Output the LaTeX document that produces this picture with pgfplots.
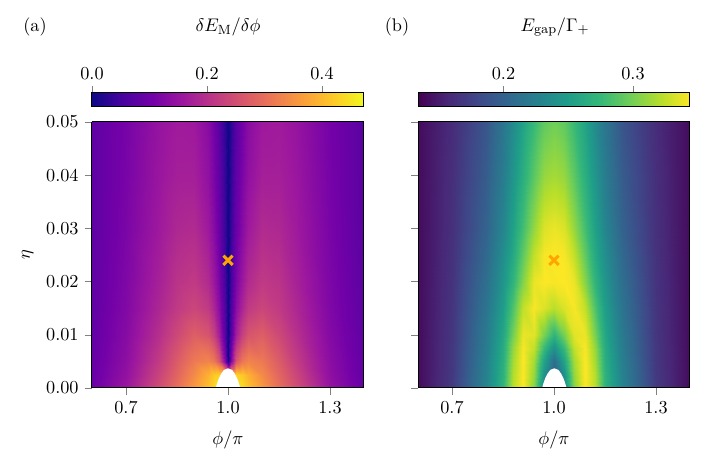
\documentclass[11pt,border=0pt]{standalone}
\usepackage{pgfplots}
\pgfplotsset{compat=1.18}
\definecolor{mplorange}{RGB}{255,165,0}
\pgfplotsset{
  colormap={plasma}{rgb255=(13,8,135) rgb255=(71,3,159) rgb255=(115,1,168) rgb255=(156,23,158) rgb255=(189,55,134) rgb255=(216,87,107) rgb255=(237,121,83) rgb255=(251,159,58) rgb255=(253,202,38) rgb255=(240,249,33)},
  colormap={vir}{rgb255=(68,1,84) rgb255=(72,40,120) rgb255=(62,73,137) rgb255=(49,104,142) rgb255=(38,130,142) rgb255=(31,158,137) rgb255=(53,183,121) rgb255=(110,206,88) rgb255=(181,222,43) rgb255=(253,231,37)},
  hm/.style={
    view={0}{90}, scale only axis, width=163.2pt, height=159.6pt,
    xmin=0.6, xmax=1.4, ymin=0, ymax=0.05,
    xtick={0.7,1.0,1.3}, ytick={0,0.01,0.02,0.03,0.04,0.05},
    scaled y ticks=false,
    xticklabel style={/pgf/number format/.cd,fixed,fixed zerofill,precision=1},
    yticklabel style={/pgf/number format/.cd,fixed,fixed zerofill,precision=2},
    tick align=outside, major tick length=4.2pt, tick pos=left,
    axis on top, axis line style={line width=0.6pt},
    xlabel={$\phi/\pi$},
    every axis x label/.style={at={(axis description cs:0.5,0)}, anchor=center, yshift=-31.2pt},
    every axis y label/.style={at={(axis description cs:0,0.5)}, anchor=center, xshift=-38.5pt, rotate=90},
    colorbar horizontal,
    colorbar shift/.style={yshift=9pt},
  },
  cb/.style={
    at={(parent axis.north)}, anchor=south,
    scale only axis, width=163.2pt, height=8.4pt,
    xtick pos=right, xticklabel pos=right,
    tick align=outside, major tick length=4.2pt,
    axis line style={line width=0.6pt},
    xticklabel style={/pgf/number format/.cd,fixed,fixed zerofill,precision=1},
  },
}
\begin{document}
\begin{tikzpicture}
\path[use as bounding box] (-55.2pt,-45.6pt) rectangle (368.4pt,232.8pt);
% (a) dE_M/dphi
\begin{axis}[hm, colormap name=plasma, point meta min=0, point meta max=0.473,
  ylabel={$\eta$},
  colorbar style={cb, xtick={0,0.2,0.4}}]
\addplot3[surf, shader=interp, mesh/cols=19] coordinates {
(0.6,0,0.095) (0.7,0,0.155) (0.8,0,0.25) (0.85,0,0.30) (0.9,0,0.36) (0.94,0,0.41) (0.96,0,0.44) (0.975,0,0.46) (0.99,0,0.47) (1.0,0,0.47) (1.01,0,0.47) (1.025,0,0.46) (1.04,0,0.44) (1.06,0,0.41) (1.1,0,0.36) (1.15,0,0.30) (1.2,0,0.25) (1.3,0,0.15) (1.4,0,0.09)
(0.6,0.0025,0.09) (0.7,0.0025,0.145) (0.8,0.0025,0.235) (0.85,0.0025,0.285) (0.9,0.0025,0.34) (0.94,0.0025,0.39) (0.96,0.0025,0.42) (0.975,0.0025,0.43) (0.99,0.0025,0.40) (1.0,0.0025,0.35) (1.01,0.0025,0.40) (1.025,0.0025,0.43) (1.04,0.0025,0.42) (1.06,0.0025,0.39) (1.1,0.0025,0.34) (1.15,0.0025,0.285) (1.2,0.0025,0.235) (1.3,0.0025,0.14) (1.4,0.0025,0.085)
(0.6,0.005,0.088) (0.7,0.005,0.138) (0.8,0.005,0.22) (0.85,0.005,0.27) (0.9,0.005,0.315) (0.94,0.005,0.33) (0.96,0.005,0.31) (0.975,0.005,0.26) (0.99,0.005,0.12) (1.0,0.005,0.0) (1.01,0.005,0.12) (1.025,0.005,0.26) (1.04,0.005,0.31) (1.06,0.005,0.33) (1.1,0.005,0.315) (1.15,0.005,0.27) (1.2,0.005,0.22) (1.3,0.005,0.135) (1.4,0.005,0.083)
(0.6,0.01,0.085) (0.7,0.01,0.13) (0.8,0.01,0.20) (0.85,0.01,0.24) (0.9,0.01,0.275) (0.94,0.01,0.26) (0.96,0.01,0.225) (0.975,0.01,0.17) (0.99,0.01,0.07) (1.0,0.01,0.0) (1.01,0.01,0.07) (1.025,0.01,0.17) (1.04,0.01,0.225) (1.06,0.01,0.26) (1.1,0.01,0.275) (1.15,0.01,0.24) (1.2,0.01,0.20) (1.3,0.01,0.127) (1.4,0.01,0.08)
(0.6,0.015,0.083) (0.7,0.015,0.123) (0.8,0.015,0.185) (0.85,0.015,0.215) (0.9,0.015,0.235) (0.94,0.015,0.215) (0.96,0.015,0.18) (0.975,0.015,0.135) (0.99,0.015,0.06) (1.0,0.015,0.0) (1.01,0.015,0.06) (1.025,0.015,0.135) (1.04,0.015,0.18) (1.06,0.015,0.215) (1.1,0.015,0.235) (1.15,0.015,0.215) (1.2,0.015,0.185) (1.3,0.015,0.12) (1.4,0.015,0.078)
(0.6,0.02,0.082) (0.7,0.02,0.12) (0.8,0.02,0.175) (0.85,0.02,0.205) (0.9,0.02,0.215) (0.94,0.02,0.19) (0.96,0.02,0.155) (0.975,0.02,0.115) (0.99,0.02,0.05) (1.0,0.02,0.0) (1.01,0.02,0.05) (1.025,0.02,0.115) (1.04,0.02,0.155) (1.06,0.02,0.19) (1.1,0.02,0.215) (1.15,0.02,0.205) (1.2,0.02,0.175) (1.3,0.02,0.117) (1.4,0.02,0.077)
(0.6,0.03,0.08) (0.7,0.03,0.115) (0.8,0.03,0.162) (0.85,0.03,0.185) (0.9,0.03,0.19) (0.94,0.03,0.16) (0.96,0.03,0.128) (0.975,0.03,0.093) (0.99,0.03,0.04) (1.0,0.03,0.0) (1.01,0.03,0.04) (1.025,0.03,0.093) (1.04,0.03,0.128) (1.06,0.03,0.16) (1.1,0.03,0.19) (1.15,0.03,0.185) (1.2,0.03,0.162) (1.3,0.03,0.112) (1.4,0.03,0.075)
(0.6,0.04,0.08) (0.7,0.04,0.112) (0.8,0.04,0.155) (0.85,0.04,0.17) (0.9,0.04,0.17) (0.94,0.04,0.142) (0.96,0.04,0.113) (0.975,0.04,0.082) (0.99,0.04,0.035) (1.0,0.04,0.0) (1.01,0.04,0.035) (1.025,0.04,0.082) (1.04,0.04,0.113) (1.06,0.04,0.142) (1.1,0.04,0.17) (1.15,0.04,0.17) (1.2,0.04,0.155) (1.3,0.04,0.109) (1.4,0.04,0.075)
(0.6,0.05,0.08) (0.7,0.05,0.11) (0.8,0.05,0.15) (0.85,0.05,0.163) (0.9,0.05,0.16) (0.94,0.05,0.132) (0.96,0.05,0.103) (0.975,0.05,0.072) (0.99,0.05,0.03) (1.0,0.05,0.0) (1.01,0.05,0.03) (1.025,0.05,0.072) (1.04,0.05,0.103) (1.06,0.05,0.132) (1.1,0.05,0.16) (1.15,0.05,0.163) (1.2,0.05,0.15) (1.3,0.05,0.107) (1.4,0.05,0.075)
};
\addplot3[fill=white, draw=none] coordinates {(0.964,0,1) (0.968,0.0009,1) (0.973,0.0018,1) (0.98,0.0027,1) (0.988,0.0034,1) (1.0,0.0037,1) (1.012,0.0034,1) (1.02,0.0027,1) (1.027,0.0018,1) (1.032,0.0009,1) (1.036,0,1)} -- cycle;
\addplot3[only marks, mark=x, mark size=3.9pt, mplorange, mark options={line width=1.8pt}] coordinates {(1.0,0.024,1)};
\end{axis}
% (b) E_gap/Gamma_+
\begin{axis}[hm, at={(195.6pt,0pt)}, colormap name=vir, point meta min=0.134, point meta max=0.344,
  yticklabels={},
  colorbar style={cb, xtick={0.2,0.3}}]
\addplot3[surf, shader=interp, mesh/cols=17] coordinates {
(0.6,0,0.14) (0.7,0,0.17) (0.8,0,0.23) (0.85,0,0.27) (0.88,0,0.322) (0.91,0,0.344) (0.94,0,0.305) (0.97,0,0.23) (1.0,0,0.2) (1.03,0,0.23) (1.06,0,0.305) (1.09,0,0.344) (1.12,0,0.322) (1.15,0,0.27) (1.2,0,0.23) (1.3,0,0.17) (1.4,0,0.14)
(0.6,0.0025,0.14) (0.7,0.0025,0.169) (0.8,0.0025,0.227) (0.85,0.0025,0.268) (0.88,0.0025,0.32) (0.91,0.0025,0.344) (0.94,0.0025,0.31) (0.97,0.0025,0.24) (1.0,0.0025,0.2) (1.03,0.0025,0.24) (1.06,0.0025,0.31) (1.09,0.0025,0.344) (1.12,0.0025,0.32) (1.15,0.0025,0.268) (1.2,0.0025,0.227) (1.3,0.0025,0.169) (1.4,0.0025,0.14)
(0.6,0.005,0.14) (0.7,0.005,0.168) (0.8,0.005,0.225) (0.85,0.005,0.265) (0.88,0.005,0.315) (0.91,0.005,0.344) (0.94,0.005,0.315) (0.97,0.005,0.255) (1.0,0.005,0.21) (1.03,0.005,0.255) (1.06,0.005,0.315) (1.09,0.005,0.344) (1.12,0.005,0.315) (1.15,0.005,0.265) (1.2,0.005,0.225) (1.3,0.005,0.168) (1.4,0.005,0.14)
(0.6,0.0075,0.14) (0.7,0.0075,0.168) (0.8,0.0075,0.222) (0.85,0.0075,0.262) (0.88,0.0075,0.31) (0.91,0.0075,0.342) (0.94,0.0075,0.325) (0.97,0.0075,0.275) (1.0,0.0075,0.24) (1.03,0.0075,0.275) (1.06,0.0075,0.325) (1.09,0.0075,0.342) (1.12,0.0075,0.31) (1.15,0.0075,0.262) (1.2,0.0075,0.222) (1.3,0.0075,0.168) (1.4,0.0075,0.14)
(0.6,0.01,0.14) (0.7,0.01,0.167) (0.8,0.01,0.22) (0.85,0.01,0.258) (0.88,0.01,0.30) (0.91,0.01,0.338) (0.94,0.01,0.335) (0.97,0.01,0.30) (1.0,0.01,0.27) (1.03,0.01,0.30) (1.06,0.01,0.335) (1.09,0.01,0.338) (1.12,0.01,0.30) (1.15,0.01,0.258) (1.2,0.01,0.22) (1.3,0.01,0.167) (1.4,0.01,0.14)
(0.6,0.015,0.14) (0.7,0.015,0.166) (0.8,0.015,0.215) (0.85,0.015,0.25) (0.88,0.015,0.285) (0.91,0.015,0.325) (0.94,0.015,0.342) (0.97,0.015,0.333) (1.0,0.015,0.322) (1.03,0.015,0.333) (1.06,0.015,0.342) (1.09,0.015,0.325) (1.12,0.015,0.285) (1.15,0.015,0.25) (1.2,0.015,0.215) (1.3,0.015,0.166) (1.4,0.015,0.14)
(0.6,0.02,0.14) (0.7,0.02,0.165) (0.8,0.02,0.21) (0.85,0.02,0.243) (0.88,0.02,0.27) (0.91,0.02,0.305) (0.94,0.02,0.338) (0.97,0.02,0.344) (1.0,0.02,0.342) (1.03,0.02,0.344) (1.06,0.02,0.338) (1.09,0.02,0.305) (1.12,0.02,0.27) (1.15,0.02,0.243) (1.2,0.02,0.21) (1.3,0.02,0.165) (1.4,0.02,0.14)
(0.6,0.025,0.14) (0.7,0.025,0.164) (0.8,0.025,0.205) (0.85,0.025,0.237) (0.88,0.025,0.26) (0.91,0.025,0.292) (0.94,0.025,0.325) (0.97,0.025,0.342) (1.0,0.025,0.344) (1.03,0.025,0.342) (1.06,0.025,0.325) (1.09,0.025,0.292) (1.12,0.025,0.26) (1.15,0.025,0.237) (1.2,0.025,0.205) (1.3,0.025,0.164) (1.4,0.025,0.14)
(0.6,0.03,0.14) (0.7,0.03,0.163) (0.8,0.03,0.20) (0.85,0.03,0.23) (0.88,0.03,0.253) (0.91,0.03,0.28) (0.94,0.03,0.31) (0.97,0.03,0.333) (1.0,0.03,0.338) (1.03,0.03,0.333) (1.06,0.03,0.31) (1.09,0.03,0.28) (1.12,0.03,0.253) (1.15,0.03,0.23) (1.2,0.03,0.20) (1.3,0.03,0.163) (1.4,0.03,0.14)
(0.6,0.04,0.14) (0.7,0.04,0.162) (0.8,0.04,0.195) (0.85,0.04,0.222) (0.88,0.04,0.243) (0.91,0.04,0.265) (0.94,0.04,0.29) (0.97,0.04,0.31) (1.0,0.04,0.315) (1.03,0.04,0.31) (1.06,0.04,0.29) (1.09,0.04,0.265) (1.12,0.04,0.243) (1.15,0.04,0.222) (1.2,0.04,0.195) (1.3,0.04,0.162) (1.4,0.04,0.14)
(0.6,0.05,0.14) (0.7,0.05,0.16) (0.8,0.05,0.19) (0.85,0.05,0.216) (0.88,0.05,0.235) (0.91,0.05,0.255) (0.94,0.05,0.275) (0.97,0.05,0.292) (1.0,0.05,0.298) (1.03,0.05,0.292) (1.06,0.05,0.275) (1.09,0.05,0.255) (1.12,0.05,0.235) (1.15,0.05,0.216) (1.2,0.05,0.19) (1.3,0.05,0.16) (1.4,0.05,0.14)
};
\addplot3[fill=white, draw=none] coordinates {(0.965,0,1) (0.969,0.0009,1) (0.974,0.0018,1) (0.981,0.0027,1) (0.989,0.0034,1) (1.001,0.0037,1) (1.013,0.0034,1) (1.021,0.0027,1) (1.028,0.0018,1) (1.033,0.0009,1) (1.037,0,1)} -- cycle;
\addplot3[only marks, mark=x, mark size=3.9pt, mplorange, mark options={line width=1.8pt}] coordinates {(1.0,0.024,1)};
\end{axis}
\node at (-34.2pt,216.6pt) {(a)};
\node at (81.6pt,216.6pt) {$\delta E_{\mathrm{M}}/\delta\phi$};
\node at (183pt,216.6pt) {(b)};
\node at (277.8pt,216.6pt) {$E_{\mathrm{gap}}/\Gamma_{+}$};
\end{tikzpicture}
\end{document}
